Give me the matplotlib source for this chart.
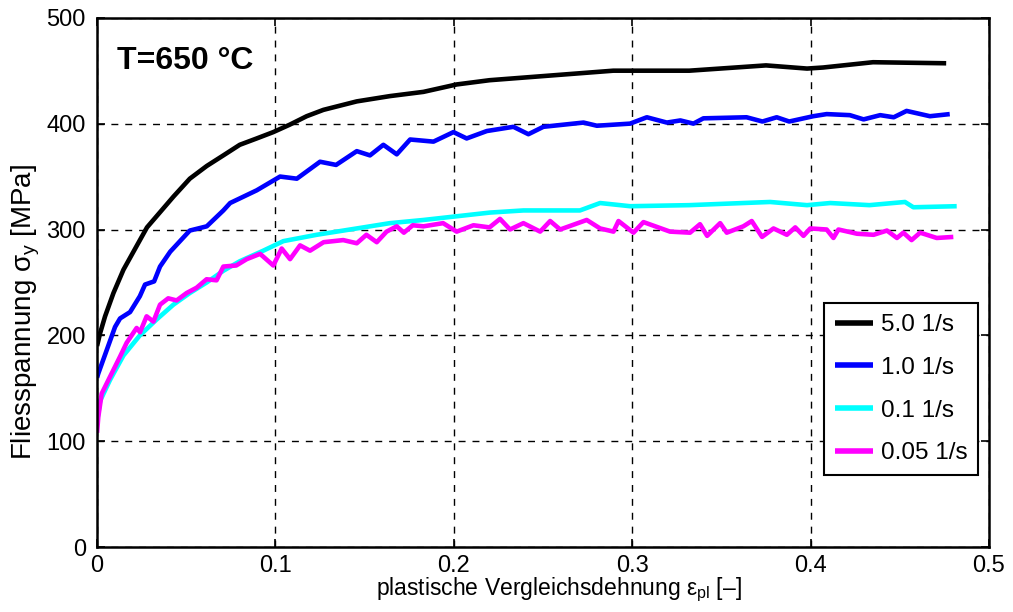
import numpy as np
import matplotlib
matplotlib.use('Agg')
import matplotlib.pyplot as plt

plt.rcParams['font.family'] = ['Liberation Sans', 'DejaVu Sans']
plt.rcParams['mathtext.fontset'] = 'custom'
plt.rcParams['mathtext.rm'] = 'Liberation Sans'
plt.rcParams['mathtext.it'] = 'Liberation Sans'

# strain rate 5.0 1/s
x_50 = [0.0, 0.0017, 0.0045, 0.0092, 0.0148, 0.0204, 0.028, 0.0428, 0.052, 0.0615, 0.0708, 0.080,
        0.0895, 0.0988, 0.108, 0.1175, 0.1269, 0.1456, 0.1642, 0.183, 0.2016, 0.22, 0.2894, 0.332,
        0.375, 0.398, 0.407, 0.435, 0.476]
y_50 = [190, 202, 218, 240, 262, 279, 302, 331, 348, 360, 370, 380,
        386, 392, 399, 407, 413, 421, 426, 430, 437, 441, 450, 450,
        455, 452, 453, 458, 457]

# strain rate 1.0 1/s
x_10 = [0.0, 0.0007, 0.0054, 0.0101, 0.0129, 0.0185, 0.024, 0.0269, 0.032, 0.0353, 0.041, 0.052,
        0.0615, 0.0708, 0.0746, 0.0895, 0.1026, 0.112, 0.125, 0.134, 0.1456, 0.153, 0.1605, 0.168,
        0.1755, 0.1886, 0.1998, 0.2072, 0.2185, 0.2334, 0.2418, 0.2502, 0.2727, 0.2802, 0.2988,
        0.3082, 0.3194, 0.327, 0.3343, 0.3399, 0.3641, 0.373, 0.381, 0.388, 0.4015, 0.409, 0.422,
        0.4297, 0.439, 0.4466, 0.4538, 0.4669, 0.478]
y_10 = [160, 164, 186, 208, 216, 222, 237, 248, 251, 265, 279, 299,
        303, 318, 325, 337, 350, 348, 364, 361, 374, 370, 380, 371,
        385, 383, 392, 386, 393, 397, 390, 397, 401, 398, 400,
        406, 401, 403, 400, 405, 406, 402, 406, 402, 407, 409, 408,
        404, 408, 406, 412, 407, 409]

# strain rate 0.1 1/s
x_01 = [0.0, 0.0017, 0.0073, 0.0148, 0.024, 0.0334, 0.0428, 0.052, 0.0615, 0.0708, 0.080, 0.0932,
        0.1044, 0.1231, 0.1456, 0.1642, 0.183, 0.2203, 0.239, 0.2707, 0.282, 0.2988, 0.332, 0.3773,
        0.398, 0.411, 0.433, 0.4529, 0.4576, 0.4819]
y_01 = [118, 138, 158, 181, 200, 215, 229, 240, 250, 261, 270, 280,
        289, 295, 301, 306, 309, 316, 318, 318, 325, 322, 323, 326,
        323, 325, 323, 326, 321, 322]

# strain rate 0.05 1/s
x_005 = [0.0, 0.0007, 0.0026, 0.0073, 0.0129, 0.0166, 0.0222, 0.0241, 0.0278, 0.0316, 0.0353,
         0.0399, 0.0446, 0.0502, 0.0558, 0.0614, 0.067, 0.0708, 0.078, 0.0839, 0.0914, 0.0988,
         0.1035, 0.1082, 0.1138, 0.1194, 0.127, 0.138, 0.1456, 0.151, 0.1568, 0.1623, 0.168, 0.172,
         0.177, 0.183, 0.194, 0.2016, 0.211, 0.22, 0.2259, 0.2315, 0.239, 0.2484, 0.254, 0.2596,
         0.2745, 0.282, 0.2895, 0.2923, 0.3007, 0.3063, 0.3212, 0.3324, 0.338, 0.342, 0.3493, 0.353,
         0.3623, 0.367, 0.3728, 0.3792, 0.3867, 0.3914, 0.396, 0.3998, 0.409, 0.4128, 0.4156, 0.426,
         0.4353, 0.4428, 0.4484, 0.452, 0.4566, 0.4614, 0.4707, 0.48]
y_005 = [108, 123, 145, 161, 180, 193, 207, 203, 218, 213, 229,
         235, 233, 240, 245, 253, 252, 265, 266, 272, 277, 266,
         282, 272, 285, 280, 288, 290, 287, 295, 288, 298, 303, 297,
         304, 303, 306, 298, 304, 302, 310, 300, 306, 298, 308, 300,
         309, 301, 298, 308, 297, 307, 298, 297, 305, 294, 306, 297,
         303, 308, 293, 301, 295, 302, 294, 301, 300, 292, 300, 296,
         295, 299, 292, 297, 290, 297, 292, 293]

labels = ['5.0 1/s', '1.0 1/s', '0.1 1/s', '0.05 1/s']
colors = ['black', '#0000ff', '#00ffff', '#ff00ff']

fig = plt.figure(figsize=(10.13, 6.12), dpi=100)
ax = fig.add_axes([0.0958, 0.106, 0.8805, 0.865])

series = [(x_50, y_50), (x_10, y_10), (x_01, y_01), (x_005, y_005)]
for (xs, ys), lab, c in zip(series, labels, colors):
    ax.plot(xs, ys, color=c, lw=3.3, label=lab, solid_joinstyle='round', solid_capstyle='butt')

ax.set_xlim(0, 0.5)
ax.set_ylim(0, 500)
ax.set_xticks([0, 0.1, 0.2, 0.3, 0.4, 0.5])
ax.set_xticklabels(['0', '0.1', '0.2', '0.3', '0.4', '0.5'])
ax.set_yticks([0, 100, 200, 300, 400, 500])
ax.grid(True, color='black', linestyle=(0, (5, 5)), linewidth=1)
ax.tick_params(direction='in', top=True, right=True, labelsize=17, length=6, width=1.2)
ax.tick_params(axis='y', pad=8)
ax.tick_params(axis='x', pad=6)
for s in ax.spines.values():
    s.set_linewidth(1.8)

ax.set_xlabel(r'plastische Vergleichsdehnung $\varepsilon_{pl}$ [–]', fontsize=16.5, labelpad=-1, x=0.518)
ax.set_ylabel(r'Fliesspannung $\sigma_{y}$ [MPa]', fontsize=20, labelpad=3, y=0.445)

ax.text(0.022, 0.903, 'T=650 °C', transform=ax.transAxes, fontsize=23,
        fontweight='bold')

leg = ax.legend(loc='lower right', bbox_to_anchor=(0.988, 0.136), fontsize=17.5,
                fancybox=False, framealpha=1, edgecolor='black', handlelength=1.6,
                borderaxespad=0, labelspacing=0.85, handletextpad=0.3, borderpad=0.45)
leg.get_frame().set_linewidth(1.5)
for h in leg.get_lines():
    h.set_linewidth(4)

fig.savefig('out.png', dpi=100)
